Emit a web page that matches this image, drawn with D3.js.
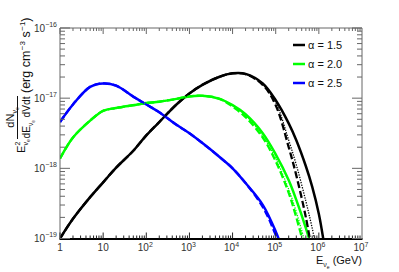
<!DOCTYPE html>
<html><head><meta charset="utf-8">
<script src="https://cdn.jsdelivr.net/npm/d3@7"></script>
<style>body{margin:0;background:#fff}svg{display:block;font-family:"Liberation Sans",Arial,Helvetica,sans-serif}</style>
</head><body><svg id="c" width="399" height="272"></svg>
<script>
// ---- data ----
const energies = [1,2,5,10,20,50,100,200,500,1e3,2e3,5e3,1e4,2e4,5e4,1e5,2e5,3e5,5e5,7e5,1e6,1.3e6];
const a15Solid  = [1.00e-19,1.91e-19,3.89e-19,6.31e-19,1.02e-18,1.78e-18,2.95e-18,4.57e-18,8.13e-18,1.17e-17,1.55e-17,2.02e-17,2.26e-17,2.22e-17,1.62e-17,9.33e-18,4.37e-18,2.51e-18,1.07e-18,5.50e-19,2.24e-19,8.9e-20];
const a15Dashed = [1.00e-19,1.91e-19,3.89e-19,6.31e-19,1.02e-18,1.78e-18,2.95e-18,4.57e-18,8.13e-18,1.17e-17,1.55e-17,2.02e-17,2.26e-17,2.20e-17,1.55e-17,7.94e-18,2.00e-18,7.94e-19,2.00e-19,6.3e-20,null,null];
const a15Dotted = [1.00e-19,1.91e-19,3.89e-19,6.31e-19,1.02e-18,1.78e-18,2.95e-18,4.57e-18,8.13e-18,1.17e-17,1.55e-17,2.02e-17,2.26e-17,2.21e-17,1.58e-17,8.71e-18,2.51e-18,1.12e-18,3.39e-19,1.41e-19,5.0e-20,null];
const a20Solid  = [1.38e-18,2.75e-18,4.79e-18,6.61e-18,7.24e-18,7.94e-18,8.51e-18,8.91e-18,9.77e-18,1.06e-17,1.08e-17,9.77e-18,7.94e-18,5.89e-18,3.16e-18,1.58e-18,6.76e-19,3.55e-19,1.41e-19,7.1e-20,null,null];
const a20Dashed = [1.38e-18,2.75e-18,4.79e-18,6.61e-18,7.24e-18,7.94e-18,8.51e-18,8.91e-18,9.77e-18,1.06e-17,1.08e-17,9.77e-18,7.59e-18,5.37e-18,2.75e-18,1.26e-18,4.47e-19,2.00e-19,6.3e-20,null,null,null];
const a20Dotted = [1.38e-18,2.75e-18,4.79e-18,6.61e-18,7.24e-18,7.94e-18,8.51e-18,8.91e-18,9.77e-18,1.06e-17,1.08e-17,9.77e-18,7.94e-18,5.75e-18,2.88e-18,1.38e-18,5.01e-19,2.40e-19,7.9e-20,null,null,null];
const a25Solid  = [4.57e-18,8.13e-18,1.45e-17,1.62e-17,1.51e-17,1.05e-17,8.13e-18,6.31e-18,4.17e-18,3.16e-18,2.29e-18,1.45e-18,1.00e-18,6.17e-19,3.02e-19,1.26e-19,4.0e-20,null,null,null,null,null];
const a25Dashed = [4.57e-18,8.13e-18,1.45e-17,1.62e-17,1.51e-17,1.05e-17,8.13e-18,6.31e-18,4.17e-18,3.16e-18,2.29e-18,1.45e-18,1.00e-18,6.17e-19,2.82e-19,1.12e-19,3.5e-20,null,null,null,null,null];
const legendLabels = ["\u03b1 = 1.5","\u03b1 = 2.0","\u03b1 = 2.5"];
const seriesColors = ["#000000","#00ff00","#0000ff"];
const xTickExps = [0,1,2,3,4,5,6,7];
const yTickExps = [-16,-17,-18,-19];

// ---- drawing ----
const svg = d3.select("#c");
const X0=60, X1=362, Y0=238.5, Y1=28;
const x = d3.scaleLog().domain([1,1e7]).range([X0,X1]);
const y = d3.scaleLog().domain([1e-19,1e-16]).range([Y0,Y1]);

svg.append("defs").append("clipPath").attr("id","clip")
  .append("rect").attr("x",X0).attr("y",Y1).attr("width",X1-X0).attr("height",Y0-Y1);

// curves
const line = d3.line().defined(d=>d[1]!=null).x(d=>x(d[0])).y(d=>y(d[1])).curve(d3.curveCatmullRom.alpha(0.5));
const plot = svg.append("g").attr("clip-path","url(#clip)");
const curves = [
  {v:a15Solid, c:0, s:"solid"},{v:a20Solid, c:1, s:"solid"},{v:a25Solid, c:2, s:"solid"},
  {v:a15Dashed,c:0, s:"dashed"},{v:a20Dashed,c:1, s:"dashed"},{v:a25Dashed,c:2, s:"dashed"},
  {v:a15Dotted,c:0, s:"dotted"},{v:a20Dotted,c:1, s:"dotted"}
];
curves.forEach(k=>{
  const p = plot.append("path").datum(energies.map((e,i)=>[e,k.v[i]]))
    .attr("d",line).attr("fill","none").attr("stroke",seriesColors[k.c]);
  if(k.s==="solid") p.attr("stroke-width",2.5);
  if(k.s==="dashed") p.attr("stroke-width",2.3).attr("stroke-dasharray","7,3");
  if(k.s==="dotted") p.attr("stroke-width",1.3).attr("stroke-dasharray","1.3,1.3");
});

// frame & ticks
const ax = svg.append("g");
ax.append("line").attr("x1",X0).attr("x2",X0).attr("y1",Y1).attr("y2",Y0).attr("stroke","#666").attr("stroke-width",1);
ax.append("line").attr("x1",X1).attr("x2",X1).attr("y1",Y1).attr("y2",Y0).attr("stroke","#666").attr("stroke-width",1);
ax.append("line").attr("x1",X0).attr("x2",X1).attr("y1",Y1).attr("y2",Y1).attr("stroke","#666").attr("stroke-width",1);
ax.append("line").attr("x1",X0-0.5).attr("x2",X1+0.5).attr("y1",Y0+0.5).attr("y2",Y0+0.5).attr("stroke","#000").attr("stroke-width",2);

for(let d=0; d<7; d++){
  for(let m=1; m<10; m++){
    const xv = x(m*Math.pow(10,d));
    const len = m===1?6:3;
    ax.append("line").attr("x1",xv).attr("x2",xv).attr("y1",Y0).attr("y2",Y0-len).attr("stroke","#222");
    ax.append("line").attr("x1",xv).attr("x2",xv).attr("y1",Y1).attr("y2",Y1+len).attr("stroke","#666");
  }
}
for(let d=-19; d<-16; d++){
  for(let m=1; m<10; m++){
    const yv = y(m*Math.pow(10,d));
    const len = m===1?10:5;
    ax.append("line").attr("x1",X0).attr("x2",X0+len).attr("y1",yv).attr("y2",yv).attr("stroke","#666");
    ax.append("line").attr("x1",X1).attr("x2",X1-len).attr("y1",yv).attr("y2",yv).attr("stroke","#666");
  }
}
ax.append("line").attr("x1",X0).attr("x2",X0+10).attr("y1",Y1).attr("y2",Y1).attr("stroke","#666");
ax.append("line").attr("x1",X1).attr("x2",X1-10).attr("y1",Y1).attr("y2",Y1).attr("stroke","#666");

// x tick labels
xTickExps.forEach(e=>{
  const xv = x(Math.pow(10,e));
  if(e===0){ svg.append("text").attr("x",xv).attr("y",251).attr("text-anchor","middle").attr("font-size",10).attr("fill","#333").text("1"); return; }
  if(e===1){ svg.append("text").attr("x",xv).attr("y",251).attr("text-anchor","middle").attr("font-size",10).attr("fill","#333").text("10"); return; }
  const t = svg.append("text").attr("x",xv-1).attr("y",251).attr("text-anchor","middle").attr("font-size",10).attr("fill","#333");
  t.append("tspan").text("10");
  t.append("tspan").attr("font-size",7).attr("dy",-4).text(e);
});
// y tick labels
yTickExps.forEach(e=>{
  const yv = y(Math.pow(10,e));
  const t = svg.append("text").attr("x",57).attr("y",yv+3.5).attr("text-anchor","end").attr("font-size",10).attr("fill","#333");
  t.append("tspan").text("10");
  t.append("tspan").attr("font-size",7).attr("dy",-5).text("\u2212"+Math.abs(e));
});

// x title
const xt = svg.append("text").attr("x",362).attr("y",264).attr("text-anchor","end").attr("font-size",11).attr("fill","#111");
xt.append("tspan").text("E");
xt.append("tspan").attr("font-size",7).attr("dy",3).text("\u03bd");
xt.append("tspan").attr("font-size",5).attr("dy",1.5).text("e");
xt.append("tspan").attr("dy",-4.5).text(" (GeV)");

// y title (rotated)
const yt = svg.append("g").attr("transform","rotate(-90)").attr("fill","#111");
yt.append("text").attr("x",-153).attr("y",25).attr("font-size",11).text("E");
yt.append("text").attr("x",-145.5).attr("y",20).attr("font-size",7).text("2");
const sub1 = yt.append("text").attr("x",-145.5).attr("y",28).attr("font-size",7);
sub1.append("tspan").text("\u03bd"); sub1.append("tspan").attr("font-size",5).attr("dy",1.5).text("e");
yt.append("line").attr("x1",-139).attr("x2",-96).attr("y1",17.5).attr("y2",17.5).attr("stroke","#111").attr("stroke-width",1);
const num = yt.append("text").attr("x",-117.5).attr("y",14).attr("font-size",11).attr("text-anchor","middle");
num.append("tspan").text("dN");
num.append("tspan").attr("font-size",7).attr("dy",3).text("\u03bd");
num.append("tspan").attr("font-size",5).attr("dy",1.5).text("e");
const den = yt.append("text").attr("x",-138.5).attr("y",30).attr("font-size",11)
  .attr("textLength",42).attr("lengthAdjust","spacingAndGlyphs");
den.append("tspan").text("dE");
den.append("tspan").attr("font-size",7).attr("dy",3).text("\u03bd");
den.append("tspan").attr("font-size",5).attr("dy",1.5).text("e");
den.append("tspan").attr("dy",-4.5).text(" dVdt");
const un = yt.append("text").attr("x",-93).attr("y",30).attr("font-size",12.5);
un.append("tspan").text("(erg cm");
un.append("tspan").attr("font-size",8).attr("dy",-5).attr("dx",0.5).text("\u22123");
un.append("tspan").attr("dy",5).text(" s");
un.append("tspan").attr("font-size",8).attr("dy",-5).attr("dx",0.5).text("\u22121");
un.append("tspan").attr("dy",5).text(")");

// legend
const ly = [45,64,83];
legendLabels.forEach((l,i)=>{
  svg.append("line").attr("x1",293).attr("x2",305).attr("y1",ly[i]).attr("y2",ly[i]).attr("stroke",seriesColors[i]).attr("stroke-width",2.5);
  svg.append("text").attr("x",308).attr("y",ly[i]+4).attr("font-size",11).attr("fill","#111").text(l);
});
</script></body></html>
